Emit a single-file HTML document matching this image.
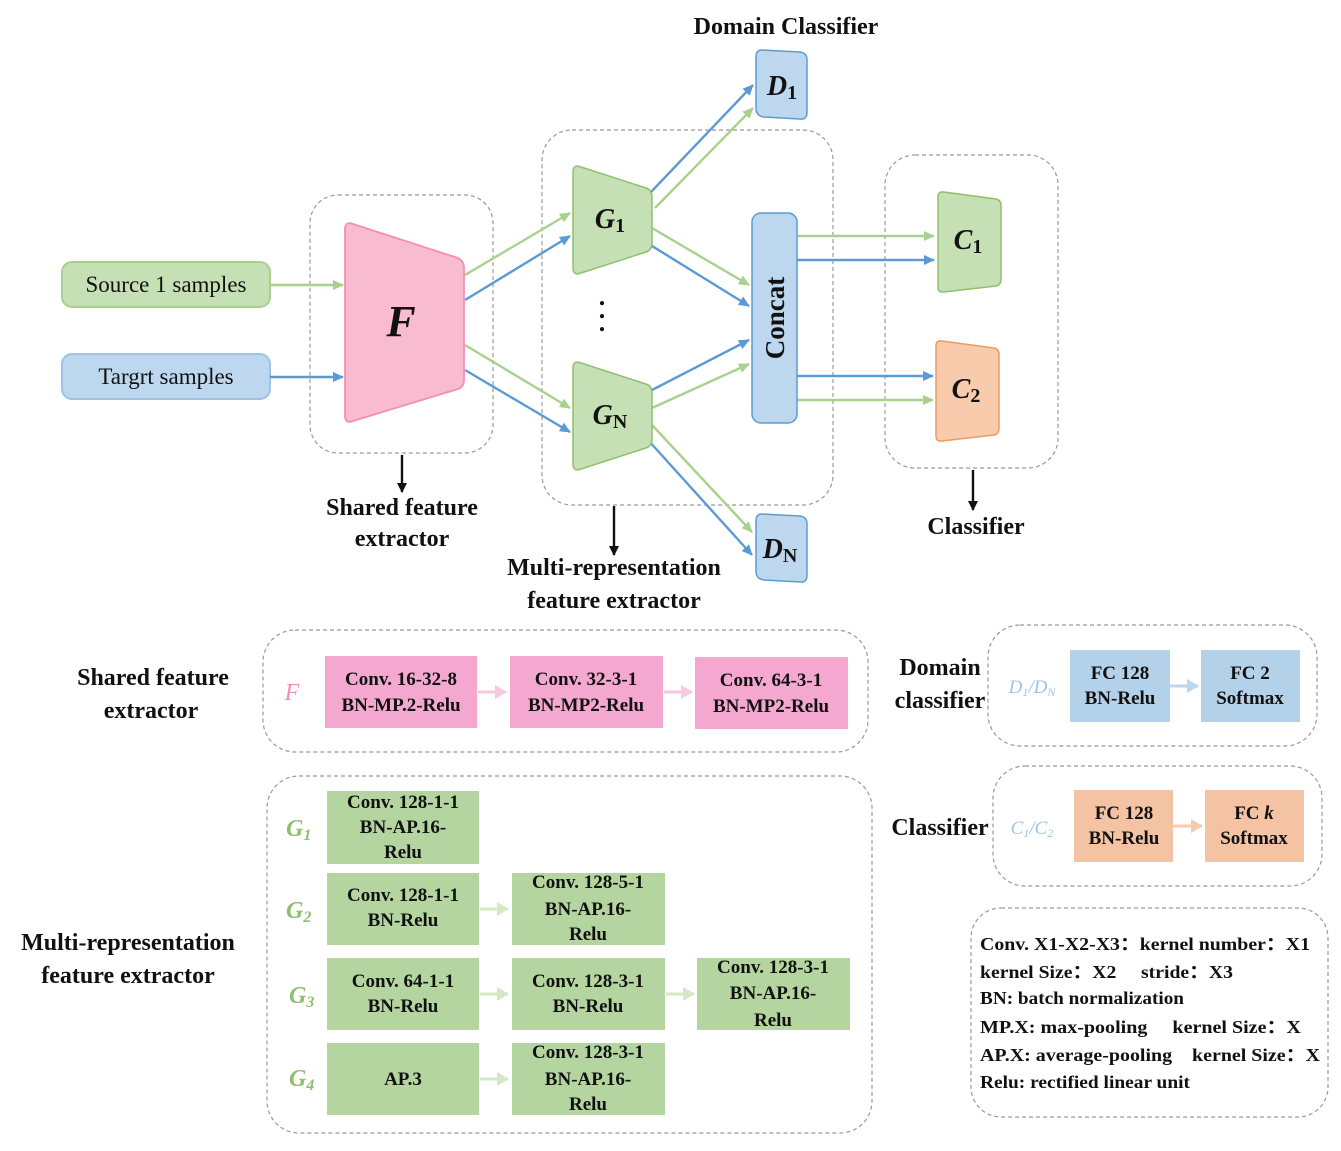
<!DOCTYPE html>
<html><head><meta charset="utf-8"><style>
html,body{margin:0;padding:0;background:#fff}
svg{display:block}
text{font-family:"Liberation Serif",serif;font-weight:bold;fill:#111}
.n{font-size:19px}
.l{font-size:24px}
.lg{font-size:18px;font-weight:normal}
.lgb{font-size:18px;font-weight:bold}
</style></head><body>
<svg width="1341" height="1151" viewBox="0 0 1341 1151" xmlns="http://www.w3.org/2000/svg">
<defs>
<marker id="ag" markerWidth="11" markerHeight="10" refX="10" refY="5" orient="auto" markerUnits="userSpaceOnUse"><path d="M0,0 L11,5 L0,10 z" fill="#a9d18e"/></marker>
<marker id="ab" markerWidth="11" markerHeight="10" refX="10" refY="5" orient="auto" markerUnits="userSpaceOnUse"><path d="M0,0 L11,5 L0,10 z" fill="#5b9bd5"/></marker>
<marker id="ak" markerWidth="10" markerHeight="10" refX="9" refY="5" orient="auto" markerUnits="userSpaceOnUse"><path d="M0,0 L10,5 L0,10 z" fill="#111"/></marker>
<marker id="ap" markerWidth="12" markerHeight="14" refX="11" refY="7" orient="auto" markerUnits="userSpaceOnUse"><path d="M0,0 L12,7 L0,14 z" fill="#f8c8dc"/></marker>
<marker id="agl" markerWidth="12" markerHeight="14" refX="11" refY="7" orient="auto" markerUnits="userSpaceOnUse"><path d="M0,0 L12,7 L0,14 z" fill="#d5e8c6"/></marker>
<marker id="abl" markerWidth="12" markerHeight="14" refX="11" refY="7" orient="auto" markerUnits="userSpaceOnUse"><path d="M0,0 L12,7 L0,14 z" fill="#bdd7ee"/></marker>
<marker id="aol" markerWidth="12" markerHeight="14" refX="11" refY="7" orient="auto" markerUnits="userSpaceOnUse"><path d="M0,0 L12,7 L0,14 z" fill="#f8cbad"/></marker>
</defs>

<g fill="none" stroke="#999" stroke-width="1.2" stroke-dasharray="4,3">
<rect x="310" y="195" width="183" height="258" rx="28"/>
<rect x="542" y="130" width="291" height="375" rx="30"/>
<rect x="885" y="155" width="173" height="313" rx="30"/>
<rect x="263" y="630" width="605" height="122" rx="32"/>
<rect x="267" y="776" width="605" height="357" rx="32"/>
<rect x="988" y="625" width="329" height="121" rx="32"/>
<rect x="993" y="766" width="329" height="120" rx="32"/>
<rect x="971" y="908" width="357" height="209" rx="30"/>
</g>

<rect x="62" y="262" width="208" height="45" rx="10" fill="#c5e0b4" stroke="#a9d18e" stroke-width="2"/>
<text x="166" y="292" text-anchor="middle" class="n" style="font-weight:normal;font-size:23px">Source 1 samples</text>
<rect x="62" y="354" width="208" height="45" rx="10" fill="#bdd7ee" stroke="#9dc3e6" stroke-width="2"/>
<text x="166" y="384" text-anchor="middle" class="n" style="font-weight:normal;font-size:23px">Targrt samples</text>

<g stroke-width="2.4" fill="none">
<line x1="270" y1="285" x2="343" y2="285" stroke="#a9d18e" marker-end="url(#ag)"/>
<line x1="270" y1="377" x2="343" y2="377" stroke="#5b9bd5" marker-end="url(#ab)"/>
<line x1="465" y1="275" x2="570" y2="213" stroke="#a9d18e" marker-end="url(#ag)"/>
<line x1="465" y1="300" x2="570" y2="236" stroke="#5b9bd5" marker-end="url(#ab)"/>
<line x1="465" y1="345" x2="570" y2="408" stroke="#a9d18e" marker-end="url(#ag)"/>
<line x1="465" y1="370" x2="570" y2="432" stroke="#5b9bd5" marker-end="url(#ab)"/>
<line x1="651" y1="192" x2="753" y2="85" stroke="#5b9bd5" marker-end="url(#ab)"/>
<line x1="655" y1="208" x2="753" y2="108" stroke="#a9d18e" marker-end="url(#ag)"/>
<line x1="652" y1="228" x2="749" y2="285" stroke="#a9d18e" marker-end="url(#ag)"/>
<line x1="652" y1="246" x2="749" y2="306" stroke="#5b9bd5" marker-end="url(#ab)"/>
<line x1="652" y1="390" x2="749" y2="340" stroke="#5b9bd5" marker-end="url(#ab)"/>
<line x1="652" y1="408" x2="749" y2="364" stroke="#a9d18e" marker-end="url(#ag)"/>
<line x1="652" y1="425" x2="752" y2="532" stroke="#a9d18e" marker-end="url(#ag)"/>
<line x1="648" y1="440" x2="752" y2="555" stroke="#5b9bd5" marker-end="url(#ab)"/>
<line x1="797" y1="236" x2="934" y2="236" stroke="#a9d18e" marker-end="url(#ag)"/>
<line x1="797" y1="260" x2="934" y2="260" stroke="#5b9bd5" marker-end="url(#ab)"/>
<line x1="797" y1="376" x2="933" y2="376" stroke="#5b9bd5" marker-end="url(#ab)"/>
<line x1="797" y1="400" x2="933" y2="400" stroke="#a9d18e" marker-end="url(#ag)"/>
<line x1="402" y1="455" x2="402" y2="492" stroke="#111" marker-end="url(#ak)"/>
<line x1="614" y1="506" x2="614" y2="555" stroke="#111" marker-end="url(#ak)"/>
<line x1="973" y1="470" x2="973" y2="510" stroke="#111" marker-end="url(#ak)"/>
</g>

<path d="M345,228 Q346,221 353,224 L458,258 Q464,261 464,268 L464,380 Q464,387 458,389 L353,421 Q346,424 345,417 Z" fill="#f8bbd0" stroke="#f48fb1" stroke-width="1.8"/>
<text x="401" y="336" text-anchor="middle" style="font-size:44px;font-style:italic">F</text>

<path d="M573,172 Q573,164 581,167 L646,188 Q652,190 652,197 L652,243 Q652,250 646,252 L581,273 Q573,276 573,268 Z" fill="#c5e0b4" stroke="#8fbf6e" stroke-width="1.5"/>
<text x="610" y="228" text-anchor="middle" style="font-size:28px;font-style:italic">G<tspan style="font-style:normal;font-size:20px" dy="4">1</tspan></text>
<path d="M573,368 Q573,360 581,363 L646,384 Q652,386 652,393 L652,439 Q652,446 646,448 L581,469 Q573,472 573,464 Z" fill="#c5e0b4" stroke="#8fbf6e" stroke-width="1.5"/>
<text x="610" y="424" text-anchor="middle" style="font-size:28px;font-style:italic">G<tspan style="font-style:normal;font-size:20px" dy="4">N</tspan></text>
<text x="602" y="305" text-anchor="middle" style="font-size:26px">.</text>
<text x="602" y="318" text-anchor="middle" style="font-size:26px">.</text>
<text x="602" y="331" text-anchor="middle" style="font-size:26px">.</text>

<rect x="752" y="213" width="45" height="210" rx="9" fill="#bdd7ee" stroke="#5b9bd5" stroke-width="1.5"/>
<text transform="translate(784,318) rotate(-90)" text-anchor="middle" style="font-size:27px">Concat</text>

<path d="M762,50 L800,52 Q807,53 807,60 L807,112 Q807,120 800,119 L764,117 Q756,116 756,108 L756,57 Q756,50 762,50 Z" fill="#bdd7ee" stroke="#5b9bd5" stroke-width="1.5"/>
<text x="782" y="95" text-anchor="middle" style="font-size:28px;font-style:italic">D<tspan style="font-style:normal;font-size:20px" dy="4">1</tspan></text>
<path d="M762,514 L800,516 Q807,517 807,524 L807,575 Q807,583 800,582 L764,580 Q756,579 756,571 L756,521 Q756,514 762,514 Z" fill="#bdd7ee" stroke="#5b9bd5" stroke-width="1.5"/>
<text x="780" y="558" text-anchor="middle" style="font-size:28px;font-style:italic">D<tspan style="font-style:normal;font-size:20px" dy="4">N</tspan></text>

<path d="M938,197 Q938,191 944,192 L996,199 Q1001,200 1001,206 L1001,279 Q1001,285 996,286 L944,292 Q938,293 938,287 Z" fill="#c5e0b4" stroke="#8fbf6e" stroke-width="1.5"/>
<text x="968" y="249" text-anchor="middle" style="font-size:28px;font-style:italic">C<tspan style="font-style:normal;font-size:20px" dy="4">1</tspan></text>
<path d="M936,346 Q936,340 942,341 L994,348 Q999,349 999,355 L999,428 Q999,434 994,435 L942,441 Q936,442 936,436 Z" fill="#f8cbad" stroke="#ed9a64" stroke-width="1.5"/>
<text x="966" y="398" text-anchor="middle" style="font-size:28px;font-style:italic">C<tspan style="font-style:normal;font-size:20px" dy="4">2</tspan></text>

<text x="786" y="34" text-anchor="middle" class="l">Domain Classifier</text>
<text x="402" y="515" text-anchor="middle" class="l">Shared feature</text>
<text x="402" y="546" text-anchor="middle" class="l">extractor</text>
<text x="614" y="575" text-anchor="middle" class="l">Multi-representation</text>
<text x="614" y="608" text-anchor="middle" class="l">feature extractor</text>
<text x="976" y="534" text-anchor="middle" class="l">Classifier</text>

<text x="153" y="685" text-anchor="middle" class="l">Shared feature</text>
<text x="151" y="718" text-anchor="middle" class="l">extractor</text>
<text x="128" y="950" text-anchor="middle" class="l">Multi-representation</text>
<text x="128" y="983" text-anchor="middle" class="l">feature extractor</text>

<text x="292" y="700" text-anchor="middle" style="font-size:24px;font-style:italic;fill:#f48fb1;font-weight:normal">F</text>
<g stroke-width="3">
<line x1="478" y1="692" x2="506" y2="692" stroke="#f8c8dc" marker-end="url(#ap)"/>
<line x1="664" y1="692" x2="692" y2="692" stroke="#f8c8dc" marker-end="url(#ap)"/>
<line x1="480" y1="909" x2="508" y2="909" stroke="#d5e8c6" marker-end="url(#agl)"/>
<line x1="480" y1="994" x2="508" y2="994" stroke="#d5e8c6" marker-end="url(#agl)"/>
<line x1="666" y1="994" x2="694" y2="994" stroke="#d5e8c6" marker-end="url(#agl)"/>
<line x1="480" y1="1079" x2="508" y2="1079" stroke="#d5e8c6" marker-end="url(#agl)"/>
<line x1="1170" y1="686" x2="1198" y2="686" stroke="#bdd7ee" marker-end="url(#abl)"/>
<line x1="1173" y1="826" x2="1202" y2="826" stroke="#f8cbad" marker-end="url(#aol)"/>
</g>
<g fill="#f4a8cf">
<rect x="325" y="656" width="152" height="72"/>
<rect x="510" y="656" width="153" height="72"/>
<rect x="695" y="657" width="153" height="72"/>
</g>
<g class="n" text-anchor="middle">
<text x="401" y="685">Conv. 16-32-8</text><text x="401" y="711">BN-MP.2-Relu</text>
<text x="586" y="685">Conv. 32-3-1</text><text x="586" y="711">BN-MP2-Relu</text>
<text x="771" y="686">Conv. 64-3-1</text><text x="771" y="712">BN-MP2-Relu</text>
</g>

<g fill="#b5d5a0">
<rect x="327" y="791" width="152" height="73"/>
<rect x="327" y="873" width="152" height="72"/>
<rect x="512" y="873" width="153" height="72"/>
<rect x="327" y="958" width="152" height="72"/>
<rect x="512" y="958" width="153" height="72"/>
<rect x="697" y="958" width="153" height="72"/>
<rect x="327" y="1043" width="152" height="72"/>
<rect x="512" y="1043" width="153" height="72"/>
</g>
<g style="font-size:24px;font-style:italic;font-weight:normal">
<text x="286" y="836" style="fill:#8fbf6e">G<tspan style="font-size:16px" dy="4">1</tspan></text>
<text x="286" y="918" style="fill:#8fbf6e">G<tspan style="font-size:16px" dy="4">2</tspan></text>
<text x="289" y="1003" style="fill:#8fbf6e">G<tspan style="font-size:16px" dy="4">3</tspan></text>
<text x="289" y="1086" style="fill:#8fbf6e">G<tspan style="font-size:16px" dy="4">4</tspan></text>
</g>
<g class="n" text-anchor="middle">
<text x="403" y="808">Conv. 128-1-1</text><text x="403" y="833">BN-AP.16-</text><text x="403" y="858">Relu</text>
<text x="403" y="901">Conv. 128-1-1</text><text x="403" y="926">BN-Relu</text>
<text x="588" y="888">Conv. 128-5-1</text><text x="588" y="915">BN-AP.16-</text><text x="588" y="940">Relu</text>
<text x="403" y="987">Conv. 64-1-1</text><text x="403" y="1012">BN-Relu</text>
<text x="588" y="987">Conv. 128-3-1</text><text x="588" y="1012">BN-Relu</text>
<text x="773" y="973">Conv. 128-3-1</text><text x="773" y="999">BN-AP.16-</text><text x="773" y="1026">Relu</text>
<text x="403" y="1085">AP.3</text>
<text x="588" y="1058">Conv. 128-3-1</text><text x="588" y="1085">BN-AP.16-</text><text x="588" y="1110">Relu</text>
</g>

<text x="940" y="675" text-anchor="middle" class="l">Domain</text>
<text x="940" y="708" text-anchor="middle" class="l">classifier</text>
<text x="940" y="835" text-anchor="middle" class="l">Classifier</text>
<text x="1032" y="693" text-anchor="middle" style="font-size:19px;font-style:italic;fill:#9dc3e6;font-weight:normal">D<tspan style="font-size:12px" dy="3">1</tspan><tspan dy="-3">/D</tspan><tspan style="font-size:12px" dy="3">N</tspan></text>
<text x="1032" y="834" text-anchor="middle" style="font-size:19px;font-style:italic;fill:#9dc3e6;font-weight:normal">C<tspan style="font-size:12px" dy="3">1</tspan><tspan dy="-3">/C</tspan><tspan style="font-size:12px" dy="3">2</tspan></text>
<rect x="1070" y="650" width="100" height="72" fill="#b4d1ea"/>
<rect x="1201" y="650" width="99" height="72" fill="#b4d1ea"/>
<rect x="1074" y="790" width="99" height="72" fill="#f4c3a3"/>
<rect x="1205" y="790" width="99" height="72" fill="#f4c3a3"/>
<g class="n" text-anchor="middle">
<text x="1120" y="679">FC 128</text><text x="1120" y="704">BN-Relu</text>
<text x="1250" y="679">FC 2</text><text x="1250" y="704">Softmax</text>
<text x="1124" y="819">FC 128</text><text x="1124" y="844">BN-Relu</text>
<text x="1254" y="819">FC <tspan style="font-style:italic">k</tspan></text><text x="1254" y="844">Softmax</text>
</g>

<g class="lg">
<text x="980" y="950" textLength="330" lengthAdjust="spacingAndGlyphs"><tspan class="lgb">Conv.</tspan> X1-X2-X3：kernel number：X1</text>
<text x="980" y="978" textLength="253" lengthAdjust="spacingAndGlyphs">kernel Size：X2　 stride：X3</text>
<text x="980" y="1004" textLength="204" lengthAdjust="spacingAndGlyphs"><tspan class="lgb">BN:</tspan> batch normalization</text>
<text x="980" y="1033" textLength="321" lengthAdjust="spacingAndGlyphs"><tspan class="lgb">MP.X:</tspan> max-pooling　 kernel Size：X</text>
<text x="980" y="1061" textLength="340" lengthAdjust="spacingAndGlyphs"><tspan class="lgb">AP.X:</tspan> average-pooling　kernel Size：X</text>
<text x="980" y="1088" textLength="210" lengthAdjust="spacingAndGlyphs"><tspan class="lgb">Relu:</tspan> rectified linear unit</text>
</g>
</svg>
</body></html>
